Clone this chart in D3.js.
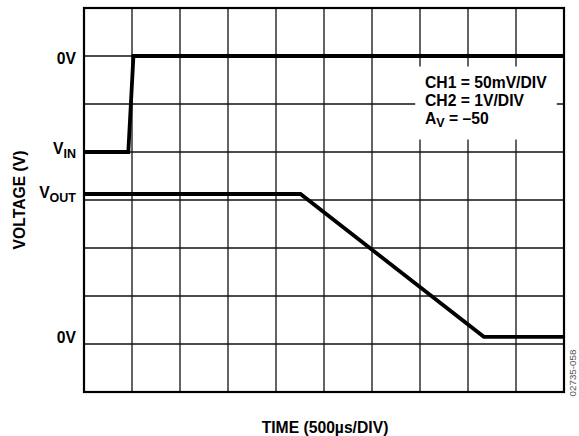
<!DOCTYPE html>
<html><head><meta charset="utf-8">
<script src="https://cdn.jsdelivr.net/npm/d3@7"></script>
<style>
html,body{margin:0;padding:0;background:#fff;}
svg{display:block;font-family:"Liberation Sans",Arial,Helvetica,sans-serif;}
</style></head>
<body><svg id="c" width="579" height="436"></svg>
<script>
// time in divisions (500 µs/DIV), vertical position in screen divisions
const timeDivs = [0,1,2,3,4,5,6,7,8,9,10];
const voltDivs = [0,1,2,3,4,5,6,7,8];
const ch1Time = [0, 0.923, 1.03, 10];
const ch1Div  = [5, 5, 7, 7];
const ch2Time = [0, 4.51, 8.33, 10];
const ch2Div  = [4.125, 4.125, 1.15, 1.15];
// label baselines in screen divisions
const levelLabels = [
  {main:"0V", sub:"", div:6.84},
  {main:"V", sub:"IN", div:4.96},
  {main:"V", sub:"OUT", div:4.05},
  {main:"0V", sub:"", div:1.02}
];
const noteLines = ["CH1 = 50mV/DIV", "CH2 = 1V/DIV"];
const noteGain = {main:"A", sub:"V", rest:" = \u201350"};
const xTitle = "TIME (500\u00b5s/DIV)";
const yTitle = "VOLTAGE (V)";
const figId = "02735-058";

const svg = d3.select("#c");
const L=84, R=564, T=8, B=392;
const x = d3.scaleLinear().domain([0,10]).range([L,R]);
const y = d3.scaleLinear().domain([0,8]).range([B,T]);

// grid
const g = svg.append("g");
g.selectAll("line.v").data(timeDivs.slice(1,-1)).join("line")
  .attr("x1",d=>x(d)).attr("x2",d=>x(d)).attr("y1",T).attr("y2",B)
  .attr("stroke","#111").attr("stroke-width",1.3);
g.selectAll("line.h").data(voltDivs.slice(1,-1)).join("line")
  .attr("y1",d=>y(d)).attr("y2",d=>y(d)).attr("x1",L).attr("x2",R)
  .attr("stroke","#111").attr("stroke-width",1.3);

// annotation white box
svg.append("rect").attr("x",x(6.9)).attr("y",y(6.78)).attr("width",x(9.85)-x(6.9)).attr("height",y(5.26)-y(6.78)).attr("fill","#fff");

// border
svg.append("rect").attr("x",L).attr("y",T).attr("width",R-L).attr("height",B-T)
  .attr("fill","none").attr("stroke","#000").attr("stroke-width",2.2);

// traces
const line = d3.line().x(d=>x(d[0])).y(d=>y(d[1]));
[[ch1Time,ch1Div],[ch2Time,ch2Div]].forEach(([t,v])=>{
  svg.append("path").datum(d3.zip(t,v)).attr("d",line)
    .attr("fill","none").attr("stroke","#000").attr("stroke-width",3.8).attr("stroke-linejoin","miter");
});

// level labels
const fs = 15.7;
levelLabels.forEach(l=>{
  const t = svg.append("text").attr("x",76).attr("y",y(l.div))
    .attr("text-anchor","end").attr("font-weight","bold").attr("font-size",fs).attr("fill","#000");
  t.append("tspan").text(l.main);
  if(l.sub) t.append("tspan").attr("font-size",12.5).attr("dy",4.5).text(l.sub);
});

// note
noteLines.forEach((s,i)=>{
  svg.append("text").attr("x",425).attr("y",87.5+i*18).attr("font-weight","bold").attr("font-size",fs).text(s);
});
const gt = svg.append("text").attr("x",425).attr("y",87.5+2*18).attr("font-weight","bold").attr("font-size",fs);
gt.append("tspan").text(noteGain.main);
gt.append("tspan").attr("font-size",12.5).attr("dy",3.5).text(noteGain.sub);
gt.append("tspan").attr("dy",-3.5).text(noteGain.rest);

// axis titles
svg.append("text").attr("x",325).attr("y",433).attr("text-anchor","middle")
  .attr("font-weight","bold").attr("font-size",fs).text(xTitle);
svg.append("text").attr("transform",`translate(25,200) rotate(-90)`).attr("text-anchor","middle")
  .attr("font-weight","bold").attr("font-size",fs).text(yTitle);
svg.append("text").attr("transform",`translate(576,373) rotate(-90)`).attr("text-anchor","middle")
  .attr("font-size",9.8).attr("fill","#555").text(figId);
</script></body></html>
